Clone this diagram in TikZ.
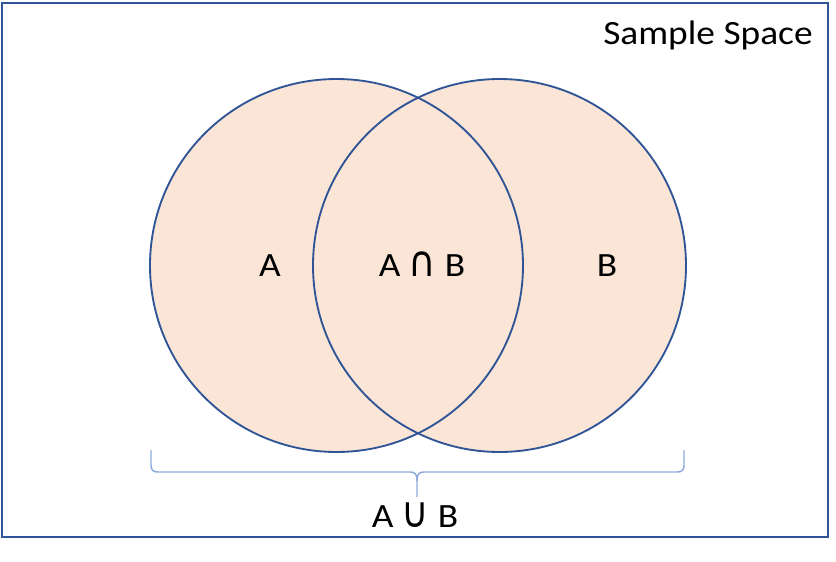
\documentclass[tikz,border=0pt]{standalone}
\usepackage{fontspec}
\setmainfont{Carlito}
\newfontfamily\symfam{DejaVu Sans}
\newcommand{\opsym}[1]{\scalebox{0.8}[1]{\symfam\fontsize{32}{36}\selectfont #1}}
\begin{document}
\begin{tikzpicture}[x=0.75pt,y=-0.75pt,
  setline/.style={draw=edgeblue,line width=1.4pt},
  lbl/.style={inner sep=0pt,anchor=base,font=\fontsize{25.5}{30}\selectfont},
  bracestyle/.style={draw=braceblue,line width=1.1pt}]
\definecolor{peach}{HTML}{FBE5D6}
\definecolor{edgeblue}{HTML}{2F5597}
\definecolor{braceblue}{HTML}{8FAADC}
\useasboundingbox (0,0) rectangle (836,561);
\draw[edgeblue,line width=1.5pt] (2,3) rectangle (828,537);
\fill[peach] (336.5,265.5) circle [radius=186.5];
\fill[peach] (499.5,265.5) circle [radius=186.5];
\draw[setline] (336.5,265.5) circle [radius=186.5];
\draw[setline] (499.5,265.5) circle [radius=186.5];
\node[lbl,anchor=base west] (ss) at (603,44) {\scalebox{1.1}[1]{Sample Space}};
\node[lbl] (a) at (270,276) {\scalebox{1.1}[1]{A}};
\node[lbl] (ab) at (422,276) {\scalebox{1.1}[1]{A \opsym{∩} B}};
\node[lbl] (b) at (607,276) {\scalebox{1.1}[1]{B}};
\node[lbl] (aub) at (415,527) {\scalebox{1.1}[1]{A \opsym{∪} B}};
\coordinate (bl) at (151,450);
\coordinate (br) at (684,450);
\coordinate (tip) at (417,497);
\draw[bracestyle] (bl) -- (151,465) .. controls (151,470) and (153,472) .. (158,472)
  -- (410,472) .. controls (415,472) and (417,474) .. (417,481) -- (tip);
\draw[bracestyle] (br) -- (684,465) .. controls (684,470) and (682,472) .. (677,472)
  -- (424,472) .. controls (419,472) and (417,474) .. (417,481);
\end{tikzpicture}
\end{document}
